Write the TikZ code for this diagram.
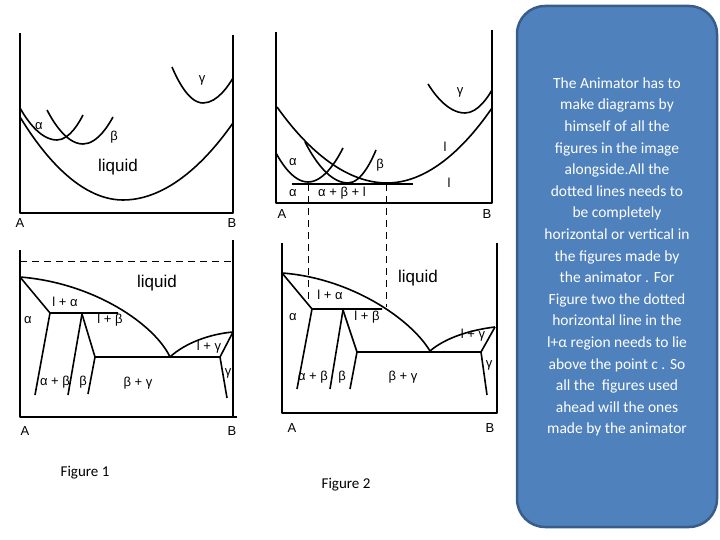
\documentclass[tikz,border=0pt]{standalone}
\usepackage{fontspec}
\setmainfont{Liberation Sans}
\newfontfamily\notefont{Carlito}
\definecolor{noteblue}{HTML}{4F81BD}
\definecolor{noteedge}{HTML}{385D8A}

\begin{document}
\begin{tikzpicture}[x=1pt, y=-1pt, line join=round,
    curve/.style={line width=1.6pt},
    axis/.style={line width=1.2pt},
    guide/.style={line width=0.9pt, dash pattern=on 7pt off 5pt},
    lbl/.style={font=\fontsize{13}{13}\selectfont, inner sep=0pt},
    big/.style={font=\fontsize{17}{17}\selectfont, inner sep=0pt},
    caption/.style={font=\notefont\fontsize{15}{15}\selectfont, inner sep=0pt}]
    \useasboundingbox (0,0) rectangle (720,540);

    % figure 1, free energy curves
    \draw[axis] (20,33) -- (20,213) -- (233,213) -- (233,35);
    \draw[curve] (20,117) parabola bend (123,200) (233,123);
    \draw[curve] (20,108) parabola bend (57,140) (83,115);
    \draw[curve] (47,110) parabola bend (83,144) (113,117);
    \draw[curve] (172,67) parabola bend (203,103) (233,78);
    \node[lbl] (f1a) at (39,126) {α};
    \node[lbl] (f1b) at (114,137) {β};
    \node[lbl] (f1g) at (202,80) {γ};
    \node[big] (f1liq) at (118,167) {liquid};
    \node[lbl] (f1A) at (20,223) {A};
    \node[lbl] (f1B) at (232,223) {B};

    % figure 1, phase diagram
    \coordinate (m1) at (20,277);
    \coordinate (p1) at (50,313);
    \coordinate (q1) at (118,313);
    \coordinate (r1) at (82,314);
    \coordinate (s1) at (95,357);
    \coordinate (e1) at (170,357);
    \coordinate (t1) at (220,357);
    \coordinate (n1) at (233,332);
    \draw[axis] (20,250) -- (20,417) -- (237,417);
    \draw[axis] (233,240) -- (233,417);
    \draw[guide] (20,261) -- (233,261);
    \draw[curve] (m1) .. controls (95,283) and (155,325) .. (e1)
                 .. controls (185,343) and (210,334) .. (n1);
    \draw[curve] (m1) -- (p1) -- (q1);
    \draw[curve] (p1) -- (35,395);
    \draw[curve] (r1) -- (68,395);
    \draw[curve] (r1) -- (s1) -- (88,394);
    \draw[curve] (s1) -- (t1) -- (n1);
    \draw[curve] (t1) -- (227,398);
    \node[big] (f1liquid) at (157,283) {liquid};
    \node[lbl] (f1la) at (65,302) {l + α};
    \node[lbl] (f1al) at (28,320) {α};
    \node[lbl] (f1lb) at (110,320) {l + β};
    \node[lbl] (f1ab) at (55,382) {α + β};
    \node[lbl] (f1be) at (83,382) {β};
    \node[lbl] (f1bg) at (138,383) {β + γ};
    \node[lbl] (f1lg) at (209,347) {l + γ};
    \node[lbl] (f1ga) at (228,373) {γ};
    \node[lbl] (f1A2) at (25,431) {A};
    \node[lbl] (f1B2) at (232,431) {B};
    \node[caption] (cap1) at (85,473) {Figure 1};

    % figure 2, free energy curves with common tangent
    \draw[axis] (276,32) -- (276,203) -- (492,203) -- (492,30);
    \draw[curve] (277,107) parabola bend (387,183) (492,108);
    \draw[curve] (276,153) parabola bend (308,182) (343,148);
    \draw[curve] (305,142) parabola bend (348,183) (376,150);
    \draw[curve] (428,84) parabola bend (465,113) (492,90);
    \coordinate (ta) at (308,184);
    \coordinate (tl) at (386,184);
    \draw[curve] (292,184) -- (413,184);
    \node[lbl] (f2a) at (293,162) {α};
    \node[lbl] (f2b) at (380,165) {β};
    \node[lbl] (f2g) at (460,92) {γ};
    \node[lbl] (f2l) at (445,147) {l};
    \node[lbl] (f2l2) at (449,183) {l};
    \node[lbl] (f2a2) at (293,193) {α};
    \node[lbl] (f2abl) at (342,193) {α + β + l};
    \node[lbl] (f2A) at (282,214) {A};
    \node[lbl] (f2B) at (487,214) {B};

    % figure 2, phase diagram
    \coordinate (m2) at (282,273);
    \coordinate (p2) at (312,309);
    \coordinate (q2) at (382,309);
    \coordinate (r2) at (343,310);
    \coordinate (s2) at (357,352);
    \coordinate (e2) at (430,351);
    \coordinate (t2) at (481,352);
    \coordinate (n2) at (495,327);
    \coordinate (da) at (308,300);
    \coordinate (dl) at (386,307);
    \draw[axis] (282,243) -- (282,413) -- (497,413) -- (497,243);
    \draw[curve] (m2) .. controls (350,278) and (410,318) .. (e2)
                 .. controls (445,338) and (470,330) .. (n2);
    \draw[curve] (m2) -- (p2) -- (q2);
    \draw[curve] (p2) -- (297,389);
    \draw[curve] (r2) -- (330,389);
    \draw[curve] (r2) -- (s2) -- (350,389);
    \draw[curve] (s2) -- (t2) -- (n2);
    \draw[curve] (t2) -- (487,395);
    \draw[guide] (ta) -- (da);
    \draw[guide] (tl) -- (dl);
    \node[big] (f2liquid) at (418,278) {liquid};
    \node[lbl] (f2la) at (330,295) {l + α};
    \node[lbl] (f2al) at (293,317) {α};
    \node[lbl] (f2lb) at (367,317) {l + β};
    \node[lbl] (f2ab) at (313,377) {α + β};
    \node[lbl] (f2be) at (342,377) {β};
    \node[lbl] (f2bg) at (403,377) {β + γ};
    \node[lbl] (f2lg) at (473,335) {l + γ};
    \node[lbl] (f2ga) at (489,365) {γ};
    \node[lbl] (f2A2) at (292,428) {A};
    \node[lbl] (f2B2) at (490,428) {B};
    \node[caption] (cap2) at (346,485) {Figure 2};

    % note box
    \node[draw=noteedge, fill=noteblue, line width=2.5pt, rounded corners=28pt,
          minimum width=200pt, minimum height=521pt, inner sep=0pt] (note) at (617,266.5) {};
    \node[text=white, align=center, inner sep=0pt,
          font=\notefont\fontsize{15.5}{21.6}\selectfont] (notetext) at (617,257) {%
      The Animator has to\\ make diagrams by\\ himself of all the\\
      figures in the image\\ alongside.All the\\ dotted lines needs to\\
      be completely\\ horizontal or vertical in\\ the figures made by\\
      the animator . For\\ Figure two the dotted\\ horizontal line in the\\
      l+α region needs to lie\\ above the point c . So\\ all the\ \ figures used\\
      ahead will the ones\\ made by the animator};
\end{tikzpicture}
\end{document}
